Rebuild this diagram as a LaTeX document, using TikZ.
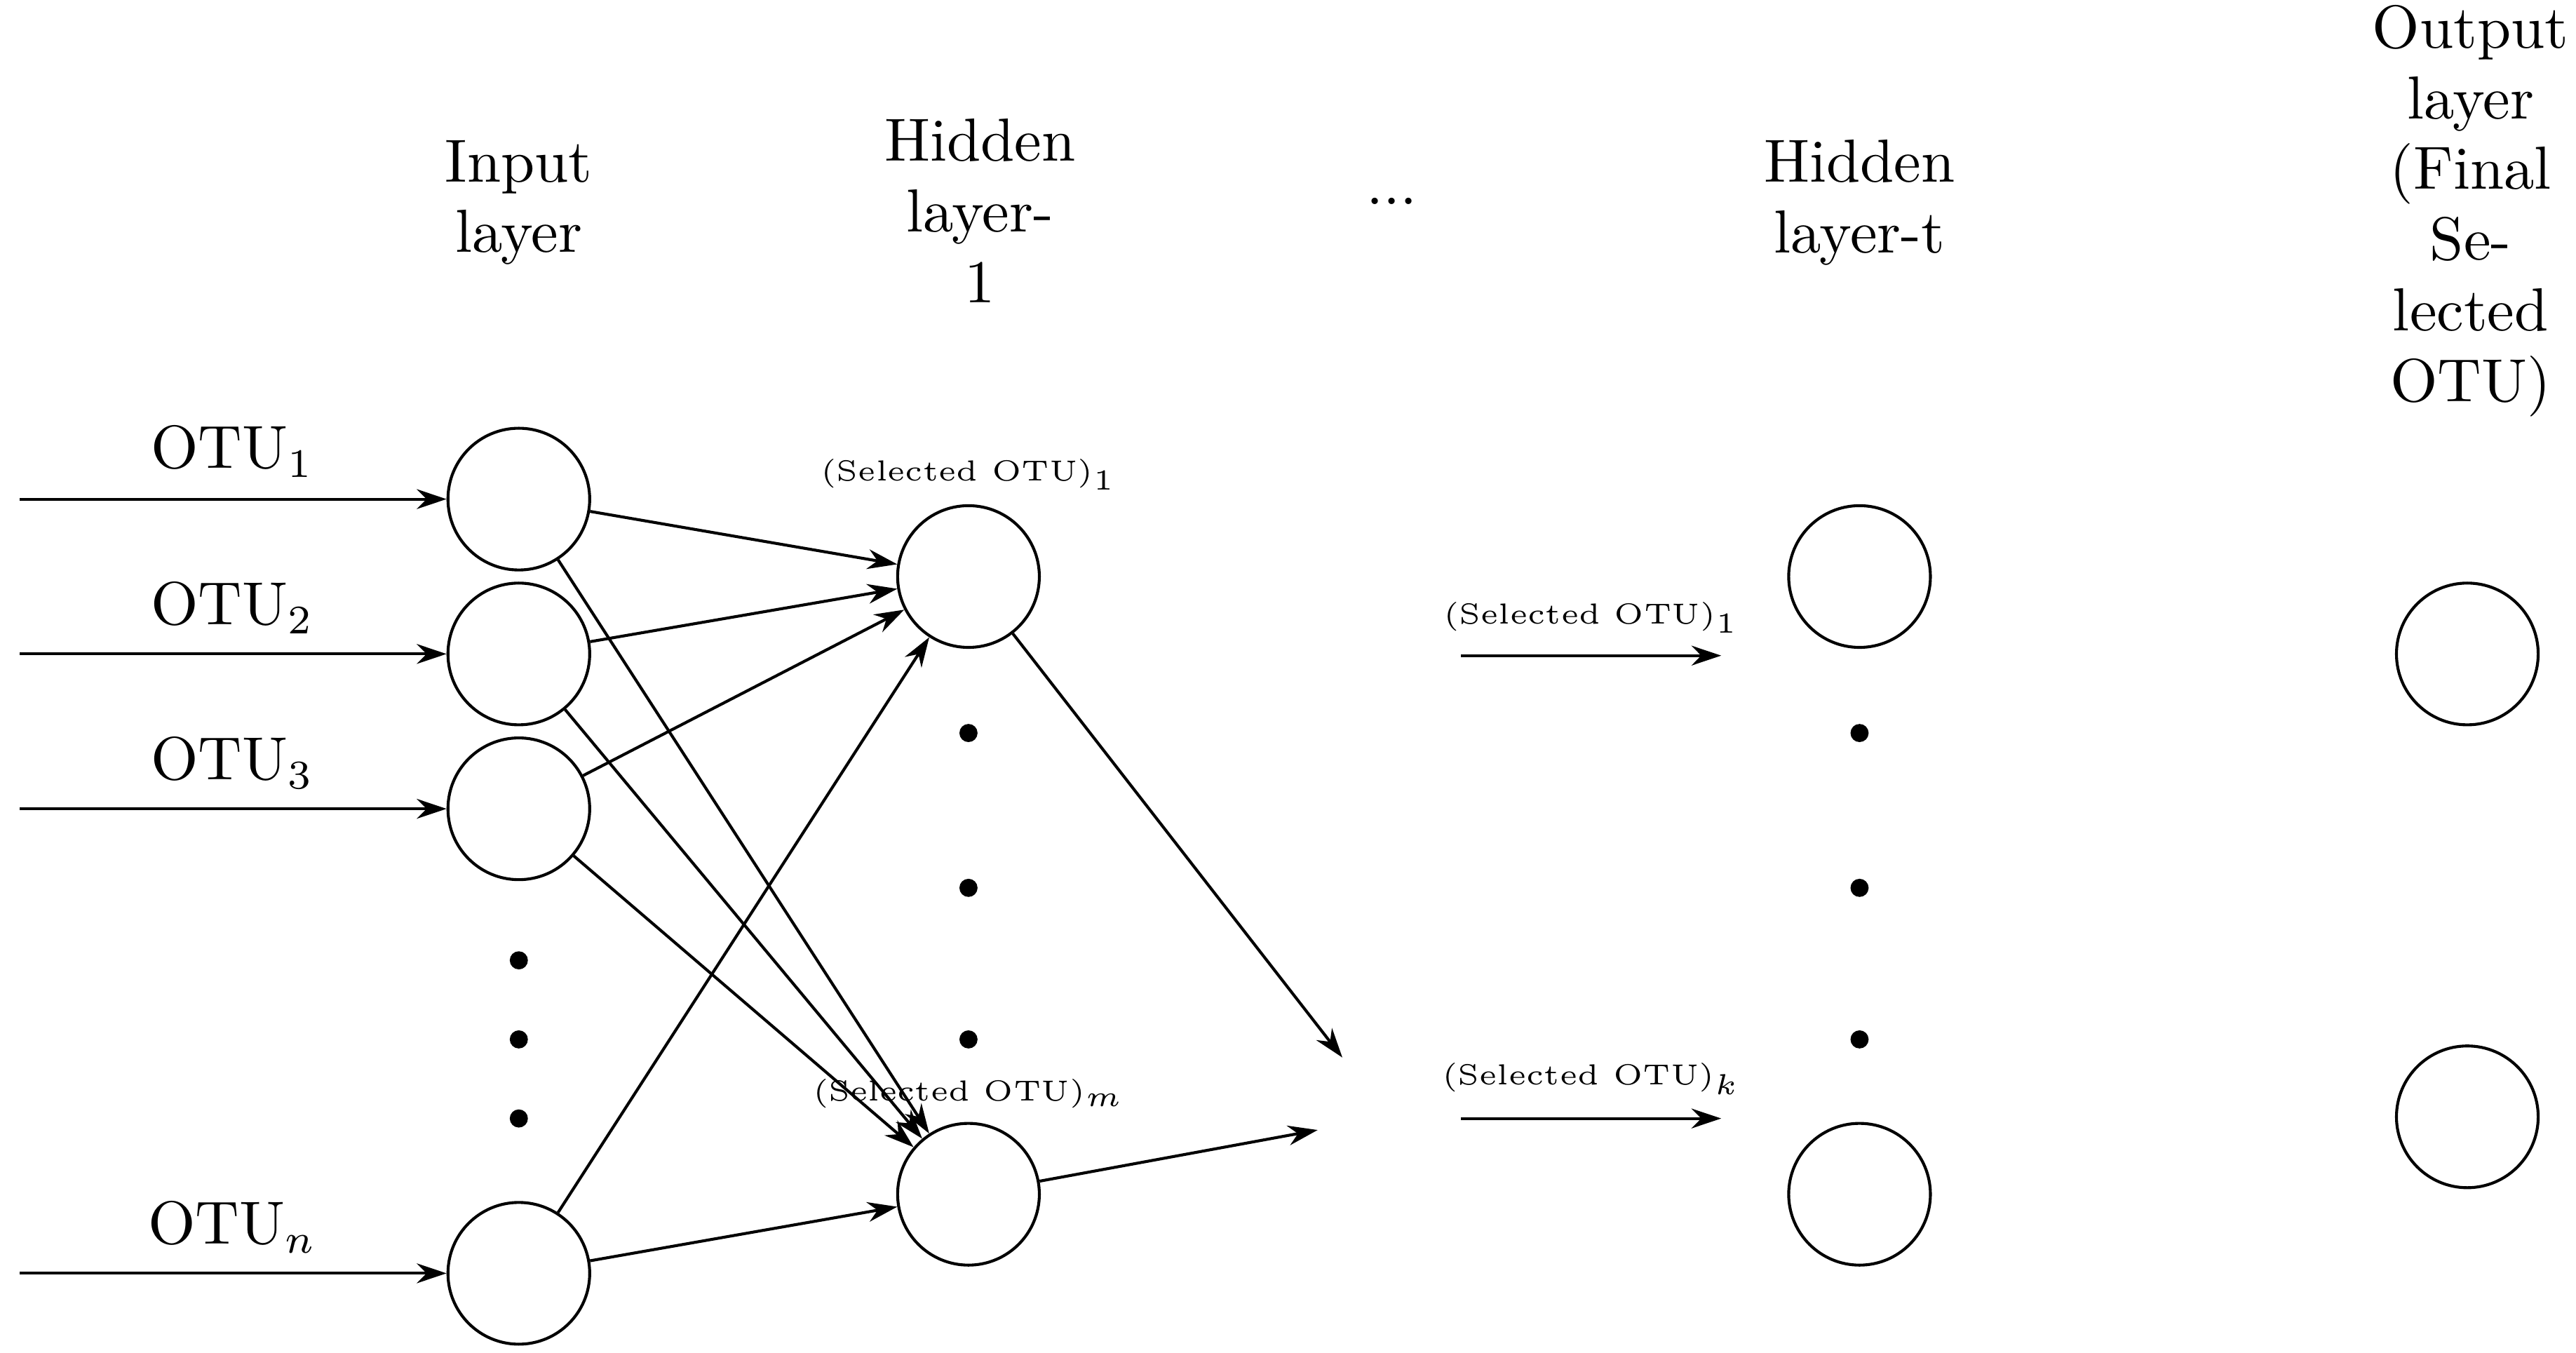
\documentclass[tikz,border=0pt]{standalone}
\usetikzlibrary{arrows.meta}
\begin{document}
\begin{tikzpicture}[x=0.01cm,y=-0.01cm,
  neu/.style={circle,draw,line width=0.5pt,minimum size=0.86cm,inner sep=0pt},
  dot/.style={circle,fill,inner sep=0pt,minimum size=0.11cm},
  arr/.style={-{Stealth[length=1.8mm,width=1.2mm]},line width=0.5pt},
  hdr/.style={align=center,font=\fontsize{10.5}{12.2}\selectfont},
  lab/.style={font=\fontsize{10.5}{13}\selectfont},
  sm/.style={font=\fontsize{5}{6}\selectfont}]
\useasboundingbox (0,0) rectangle (1564,821);
% headers
\node[hdr] (hin) at (315,123) {Input\\layer};
\node[hdr] (hh1) at (595,128) {Hidden\\layer-\\1};
\node[hdr] (hdots) at (845,122) {...};
\node[hdr] (hht) at (1129,123) {Hidden\\layer-t};
\node[hdr] (hout) at (1500,128) {Output\\layer\\(Final\\Se-\\lected\\OTU)};
% input layer
\node[neu] (i1) at (315,303) {};
\node[neu] (i2) at (315,397) {};
\node[neu] (i3) at (315,491) {};
\node[neu] (in) at (315,773) {};
\node[dot] (di1) at (315,583) {};
\node[dot] (di2) at (315,631) {};
\node[dot] (di3) at (315,679) {};
\foreach \n/\y in {a/303,b/397,c/491,d/773}{
  \coordinate (s\n) at (12,\y);
}
\node[lab] (l1) at (141,274) {OTU$_1$};
\node[lab] (l2) at (141,369) {OTU$_2$};
\node[lab] (l3) at (141,463) {OTU$_3$};
\node[lab] (ln) at (141,745) {OTU$_n$};
\draw[arr] (sa) -- (i1);
\draw[arr] (sb) -- (i2);
\draw[arr] (sc) -- (i3);
\draw[arr] (sd) -- (in);
% hidden 1
\node[neu] (h1) at (588,350) {};
\node[neu] (hm) at (588,725) {};
\node[dot] (dh1) at (588,445) {};
\node[dot] (dh2) at (588,539) {};
\node[dot] (dh3) at (588,631) {};
\node[sm] (sl1) at (588,288) {(Selected OTU)$_1$};
\node[sm] (slm) at (588,664) {(Selected OTU)$_m$};
\foreach \i in {i1,i2,i3,in}{
  \draw[arr] (\i) -- (h1);
  \draw[arr] (\i) -- (hm);
}
\coordinate (e1) at (815,642);
\coordinate (e2) at (800,686);
\draw[arr] (h1) -- (e1);
\draw[arr] (hm) -- (e2);
% hidden t
\node[neu] (t1) at (1129,350) {};
\node[neu] (tk) at (1129,725) {};
\node[dot] (dt1) at (1129,445) {};
\node[dot] (dt2) at (1129,539) {};
\node[dot] (dt3) at (1129,631) {};
\coordinate (a1s) at (887,398);
\coordinate (a1e) at (1045,398);
\coordinate (a2s) at (887,679);
\coordinate (a2e) at (1045,679);
\draw[arr] (a1s) -- (a1e);
\draw[arr] (a2s) -- (a2e);
\node[sm] (la1) at (966,375) {(Selected OTU)$_1$};
\node[sm] (la2) at (966,655) {(Selected OTU)$_k$};
% output
\node[neu] (o1) at (1498,397) {};
\node[neu] (o2) at (1498,678) {};
\end{tikzpicture}
\end{document}
